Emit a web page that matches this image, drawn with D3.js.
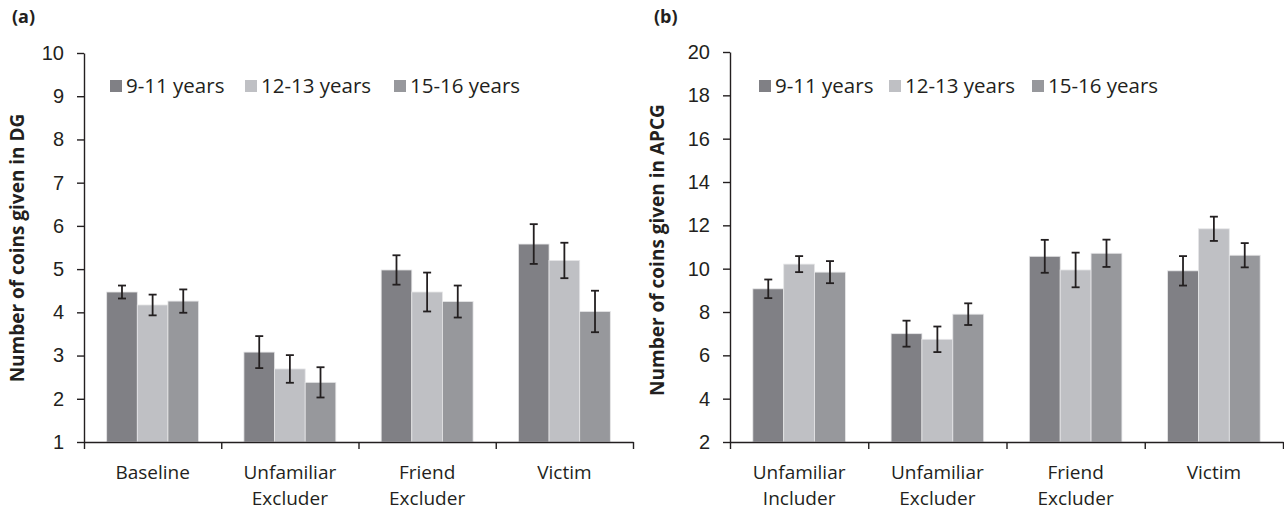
<!DOCTYPE html>
<html>
<head>
<meta charset="utf-8">
<script src="https://cdn.jsdelivr.net/npm/d3@7"></script>
<style>
  body { margin: 0; background: #fff; }
  svg { font-family: "Open Sans", "Noto Sans", sans-serif; }
</style>
</head>
<body>
<svg id="chart"></svg>
<script>
// series / groups
const groups = ["9-11 years", "12-13 years", "15-16 years"];
const groupColors = ["#808085", "#bfc0c4", "#97989c"];

// panel (a) — dictator game
const catsA = [["Baseline"], ["Unfamiliar", "Excluder"], ["Friend", "Excluder"], ["Victim"]];
const meansA = [
  [4.47, 4.17, 4.26],
  [3.08, 2.69, 2.38],
  [4.98, 4.47, 4.25],
  [5.58, 5.20, 4.02]
];
const errA = [
  [0.15, 0.24, 0.27],
  [0.37, 0.32, 0.35],
  [0.34, 0.45, 0.37],
  [0.46, 0.41, 0.48]
];
const ticksA = [1, 2, 3, 4, 5, 6, 7, 8, 9, 10];

// panel (b) — APCG
const catsB = [["Unfamiliar", "Includer"], ["Unfamiliar", "Excluder"], ["Friend", "Excluder"], ["Victim"]];
const meansB = [
  [9.07, 10.21, 9.84],
  [7.00, 6.74, 7.90],
  [10.57, 9.94, 10.71],
  [9.90, 11.84, 10.62]
];
const errB = [
  [0.43, 0.37, 0.51],
  [0.60, 0.59, 0.50],
  [0.76, 0.80, 0.63],
  [0.68, 0.56, 0.56]
];
const ticksB = [2, 4, 6, 8, 10, 12, 14, 16, 18, 20];

const svg = d3.select("#chart").attr("width", 1284).attr("height", 513);
const ink = "#231f20";

function drawPanel(opt) {
  const g = svg.append("g");
  const keys = opt.cats.map((c, i) => i);

  const y = d3.scaleLinear().domain(opt.yDomain).range([442, opt.yTop]);
  const x0 = d3.scaleBand().domain(keys).range(opt.xRange).padding(0);
  const x1 = d3.scaleBand().domain(d3.range(groups.length))
    .range([0, x0.bandwidth()]).paddingInner(0).paddingOuter(0.74);
  const xEdge = d3.scaleLinear().domain([0, keys.length]).range(opt.xRange);

  // bars
  const grp = g.selectAll("g.cat").data(keys).join("g")
    .attr("class", "cat")
    .attr("transform", d => `translate(${x0(d)},0)`);

  grp.selectAll("rect").data(ci => opt.means[ci].map((v, si) => ({ v, si })))
    .join("rect")
    .attr("x", d => x1(d.si))
    .attr("y", d => y(d.v))
    .attr("width", x1.bandwidth())
    .attr("height", d => y(opt.yDomain[0]) - y(d.v))
    .attr("fill", d => groupColors[d.si])
    .attr("stroke", "#e6e6e8")
    .attr("stroke-width", 0.8);

  // error bars
  const eb = grp.selectAll("g.err").data(ci => opt.means[ci].map((v, si) => ({ v, e: opt.err[ci][si], si })))
    .join("g").attr("class", "err")
    .attr("stroke", ink).attr("stroke-width", 1.8);
  const cx = d => x1(d.si) + x1.bandwidth() / 2;
  eb.append("line").attr("x1", cx).attr("x2", cx)
    .attr("y1", d => y(d.v - d.e)).attr("y2", d => y(d.v + d.e));
  eb.append("line").attr("x1", d => cx(d) - 4).attr("x2", d => cx(d) + 4)
    .attr("y1", d => y(d.v + d.e)).attr("y2", d => y(d.v + d.e));
  eb.append("line").attr("x1", d => cx(d) - 4).attr("x2", d => cx(d) + 4)
    .attr("y1", d => y(d.v - d.e)).attr("y2", d => y(d.v - d.e));

  // y axis
  const ya = g.append("g").attr("transform", `translate(${opt.xRange[0]},0)`)
    .call(d3.axisLeft(y).tickValues(opt.ticks).tickSize(7).tickSizeOuter(0).tickPadding(13));
  ya.selectAll("path, line").attr("stroke", ink).attr("stroke-width", 1.4);
  ya.selectAll("text").attr("fill", "#231f20").attr("font-size", 20);

  // x axis
  const xa = g.append("g").attr("transform", `translate(0,${y(opt.yDomain[0])})`)
    .call(d3.axisBottom(xEdge).tickValues(d3.range(keys.length + 1)).tickSize(7).tickSizeOuter(0).tickFormat(""));
  xa.selectAll("path, line").attr("stroke", ink).attr("stroke-width", 1.4);

  // category labels
  const lab = g.append("g").selectAll("text").data(keys).join("text")
    .attr("text-anchor", "middle")
    .attr("font-size", 19)
    .attr("fill", ink)
    .attr("x", d => x0(d) + x0.bandwidth() / 2)
    .attr("y", 479);
  lab.selectAll("tspan").data(d => opt.cats[d]).join("tspan")
    .attr("x", function () { return d3.select(this.parentNode).attr("x"); })
    .attr("dy", (d, i) => i === 0 ? 0 : 26)
    .text(d => d);

  // y title
  g.append("text")
    .attr("transform", `translate(${opt.titleX},${opt.titleY}) rotate(-90)`)
    .attr("text-anchor", "middle")
    .attr("font-weight", "bold")
    .attr("font-size", 19)
    .attr("fill", ink)
    .text(opt.title);

  // panel letter
  g.append("text").attr("x", opt.letterX).attr("y", 23)
    .attr("font-weight", "bold").attr("font-size", 18).attr("fill", ink)
    .text(opt.letter);

  // legend
  const leg = g.append("g").selectAll("g").data(groups).join("g")
    .attr("transform", (d, i) => `translate(${opt.legendX[i]},0)`);
  leg.append("rect").attr("x", 0).attr("y", 80).attr("width", 12).attr("height", 12)
    .attr("fill", (d, i) => groupColors[i]);
  leg.append("text").attr("x", 16).attr("y", 93)
    .attr("font-size", 20.5).attr("fill", ink).text(d => d);
}

drawPanel({
  cats: catsA, means: meansA, err: errA, ticks: ticksA,
  yDomain: [1, 10], yTop: 53, xRange: [84, 633],
  title: "Number of coins given in DG", titleX: 24, titleY: 248,
  letter: "(a)", letterX: 12,
  legendX: [110, 245, 394]
});

drawPanel({
  cats: catsB, means: meansB, err: errB, ticks: ticksB,
  yDomain: [2, 20], yTop: 52, xRange: [730, 1283],
  title: "Number of coins given in APCG", titleX: 664, titleY: 250,
  letter: "(b)", letterX: 654,
  legendX: [759, 889, 1032]
});
</script>
</body>
</html>
